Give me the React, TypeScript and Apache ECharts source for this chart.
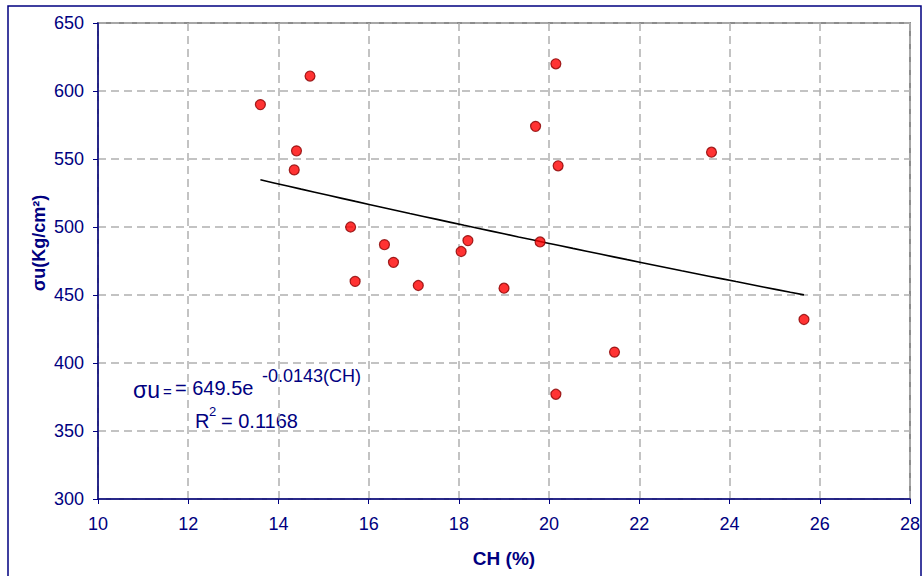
import React, { useEffect, useRef } from "react";
import * as echarts from "echarts";

// Scatter data: CH (%) vs σu (Kg/cm²)
const chValues = [13.6, 14.7, 14.4, 14.35, 15.6, 15.7, 16.35, 16.55, 17.1, 18.05, 18.2, 19.0, 19.7, 19.8, 20.15, 20.2, 20.15, 21.45, 23.6, 25.65];
const sigmaValues = [590, 611, 556, 542, 500, 460, 487, 474, 457, 482, 490, 455, 574, 489, 620, 545, 377, 408, 555, 432];

// Exponential trendline shown on the chart: σu = 649.5 e^(-0.0143 CH)
const trendCoeffs = [649.5, -0.0143];
const trendRange = [13.6, 25.65];
const trendSteps = 40;

const xRange = [10, 28, 2];
const yRange = [300, 650, 50];

const NAVY = "#000080";
const FONT = "'Liberation Sans', Arial, sans-serif";

export default function App() {
  const ref = useRef<HTMLDivElement>(null);

  useEffect(() => {
    document.body.style.margin = "0";
    if (!ref.current) return;
    const chart = echarts.init(ref.current, null, { renderer: "svg" });

    const scatterData = chValues.map((x, i) => [x, sigmaValues[i]]);
    const trendData: number[][] = [];
    for (let i = 0; i <= trendSteps; i++) {
      const x = trendRange[0] + ((trendRange[1] - trendRange[0]) * i) / trendSteps;
      trendData.push([x, trendCoeffs[0] * Math.exp(trendCoeffs[1] * x)]);
    }

    chart.setOption({
      animation: false,
      backgroundColor: "#ffffff",
      grid: {
        left: 98,
        top: 23,
        width: 812,
        height: 476,
        show: true,
        borderColor: "#8c8c8c",
        borderWidth: 2,
        backgroundColor: "transparent",
      },
      xAxis: {
        type: "value",
        min: xRange[0],
        max: xRange[1],
        interval: xRange[2],
        axisLine: { show: true, onZero: false, lineStyle: { color: NAVY, width: 1.5 } },
        axisTick: { show: true, length: 5, lineStyle: { color: NAVY } },
        axisLabel: { color: NAVY, fontSize: 18, fontFamily: FONT, margin: 16 },
        splitLine: { show: true, lineStyle: { color: "#b0b0b0", type: [8, 5], width: 1.5 } },
      },
      yAxis: {
        type: "value",
        min: yRange[0],
        max: yRange[1],
        interval: yRange[2],
        axisLine: { show: true, onZero: false, lineStyle: { color: NAVY, width: 1.5 } },
        axisTick: { show: true, length: 5, lineStyle: { color: NAVY } },
        axisLabel: { color: NAVY, fontSize: 18, fontFamily: FONT, margin: 14 },
        splitLine: { show: true, lineStyle: { color: "#b0b0b0", type: [8, 5], width: 1.5 } },
      },
      series: [
        {
          type: "line",
          data: trendData,
          showSymbol: false,
          symbol: "none",
          lineStyle: { color: "#000000", width: 1.6 },
          z: 2,
        },
        {
          type: "scatter",
          data: scatterData,
          symbol: "circle",
          symbolSize: 10,
          itemStyle: { color: "#ff0000", borderColor: "#880000", borderWidth: 1.2 },
          z: 3,
        },
      ],
      graphic: [
        {
          type: "rect",
          shape: { x: 8, y: 6, width: 913, height: 590 },
          style: { fill: "none", stroke: NAVY, lineWidth: 1.5 },
          silent: true,
        },
        {
          type: "text",
          x: 504,
          y: 558,
          style: {
            text: "CH (%)",
            fill: NAVY,
            font: `bold 19px ${FONT}`,
            align: "center",
            verticalAlign: "middle",
          },
        },
        {
          type: "text",
          x: 39,
          y: 243,
          rotation: Math.PI / 2,
          style: {
            text: "σu(Kg/cm²)",
            fill: NAVY,
            font: `bold 18px ${FONT}`,
            align: "center",
            verticalAlign: "middle",
          },
        },
        {
          type: "text",
          x: 133,
          y: 390,
          style: { text: "σu", fill: NAVY, font: `23px ${FONT}`, align: "left", verticalAlign: "middle" },
        },
        {
          type: "text",
          x: 163,
          y: 391,
          style: { text: "=", fill: NAVY, font: `15px ${FONT}`, align: "left", verticalAlign: "middle" },
        },
        {
          type: "text",
          x: 175,
          y: 388,
          style: { text: "= 649.5e", fill: NAVY, font: `20px ${FONT}`, align: "left", verticalAlign: "middle" },
        },
        {
          type: "text",
          x: 262,
          y: 376,
          style: { text: "-0.0143(CH)", fill: NAVY, font: `18px ${FONT}`, align: "left", verticalAlign: "middle" },
        },
        {
          type: "text",
          x: 195,
          y: 421,
          style: { text: "R", fill: NAVY, font: `20px ${FONT}`, align: "left", verticalAlign: "middle" },
        },
        {
          type: "text",
          x: 209,
          y: 411,
          style: { text: "2", fill: NAVY, font: `13px ${FONT}`, align: "left", verticalAlign: "middle" },
        },
        {
          type: "text",
          x: 221,
          y: 421,
          style: { text: "= 0.1168", fill: NAVY, font: `20px ${FONT}`, align: "left", verticalAlign: "middle" },
        },
      ],
    });

    return () => chart.dispose();
  }, []);

  return <div ref={ref} style={{ width: 923, height: 576 }} />;
}
